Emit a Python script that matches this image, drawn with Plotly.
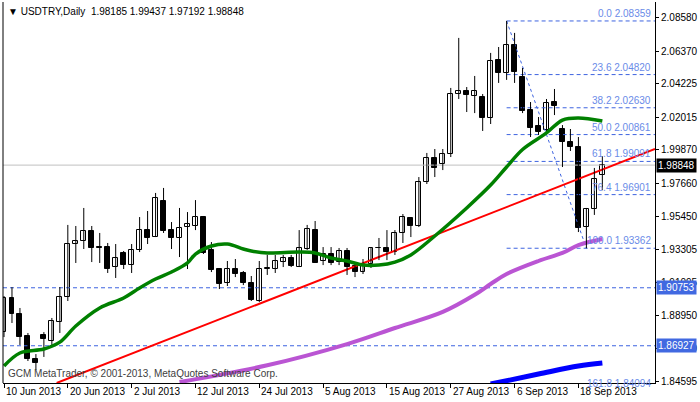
import plotly.graph_objects as go

# ---------------- data ----------------
opens = [1.8783,1.9008,1.8902,1.8757,1.8605,1.8763,1.8724,1.8849,1.9014,1.9364,
         1.9384,1.9450,1.9344,1.9344,1.9212,1.9305,1.9225,1.9325,1.9456,1.9410,
         1.9648,1.9456,1.9404,1.9476,1.9483,1.9542,1.9325,1.9199,1.9107,1.9199,
         1.9173,1.9107,1.8988,1.9199,1.9199,1.9245,1.9272,1.9212,1.9331,1.9456,
         1.9252,1.9298,1.9245,1.9318,1.9219,1.9179,1.9232,1.9338,1.9338,1.9311,
         1.9437,1.9536,1.9483,1.9773,1.9932,1.9892,1.9958,2.0354,2.0374,2.0341,
         2.0334,2.0196,2.0578,2.0493,2.0677,2.0466,2.0248,2.0143,2.0117,2.0301,
         2.0123,2.0037,2.0004,1.9476,1.9595,1.98185]
highs = [1.9021,1.9080,1.8942,1.8777,1.8638,1.8783,1.8876,1.9080,1.9490,1.9483,
         1.9602,1.9483,1.9437,1.9371,1.9364,1.9318,1.9364,1.9542,1.9582,1.9701,
         1.9734,1.9509,1.9602,1.9575,1.9654,1.9549,1.9377,1.9199,1.9252,1.9265,
         1.9186,1.9153,1.9252,1.9292,1.9292,1.9292,1.9292,1.9456,1.9490,1.9516,
         1.9344,1.9344,1.9338,1.9338,1.9232,1.9265,1.9338,1.9404,1.9456,1.9456,
         1.9562,1.9542,1.9806,1.9965,1.9991,1.9991,2.0394,2.0724,2.0400,2.0473,
         2.0354,2.0625,2.0664,2.08359,2.0757,2.0526,2.0301,2.0202,2.0321,2.0387,
         2.0149,2.0123,2.0070,1.9602,1.9866,1.99437]
lows = [1.8750,1.8843,1.8698,1.8592,1.8533,1.8619,1.8698,1.8777,1.8988,1.9239,
        1.9331,1.9245,1.9239,1.9173,1.9140,1.9199,1.9173,1.9311,1.9364,1.9410,
        1.9437,1.9331,1.9278,1.9199,1.9456,1.9298,1.9179,1.9067,1.9087,1.9146,
        1.9093,1.8988,1.8981,1.9160,1.9173,1.9212,1.9212,1.9212,1.9325,1.9239,
        1.9225,1.9225,1.9225,1.9160,1.9146,1.9166,1.9206,1.9258,1.9258,1.9292,
        1.9371,1.9410,1.9476,1.9760,1.9806,1.9852,1.9938,2.0321,2.0235,2.0228,
        2.0110,2.0156,2.0427,2.0447,2.0427,2.0228,2.0070,2.0084,2.0103,2.0215,
        1.9872,1.9978,1.9443,1.93362,1.9556,1.97192]
closes = [1.9008,1.8902,1.8750,1.8605,1.8579,1.8737,1.8856,1.9014,1.9364,1.9384,
          1.9450,1.9338,1.9340,1.9199,1.9272,1.9225,1.9325,1.9456,1.9404,1.9668,
          1.9450,1.9404,1.9470,1.9496,1.9542,1.9305,1.9192,1.9100,1.9199,1.9166,
          1.9107,1.8995,1.9199,1.9206,1.9252,1.9272,1.9219,1.9338,1.9463,1.9239,
          1.9298,1.9239,1.9318,1.9212,1.9179,1.9232,1.9338,1.9340,1.9311,1.9437,
          1.9542,1.9483,1.9773,1.9932,1.9866,1.9958,2.0354,2.0374,2.0347,2.0374,
          2.0196,2.0572,2.0493,2.0677,2.0499,2.0242,2.0130,2.0103,2.0295,2.0275,
          2.0037,2.0004,1.9470,1.9595,1.9793,1.98848]

green_idx = [0,2,5,7,9,12,15,17,19,21,23,24,26,28,30,31,33,37,39,41,43,45,47,49,51,54,58,61,63,65,68,70,72,75]
green_val = [1.8559,1.8645,1.8671,1.8717,1.8823,1.8942,1.9008,1.9074,1.9133,1.9179,1.9239,1.9298,
             1.9351,1.9364,1.9331,1.9318,1.9305,1.9311,1.9305,1.9272,1.9252,1.9225,1.9225,1.9245,
             1.9292,1.9417,1.9602,1.9753,1.9872,1.9988,2.0097,2.0182,2.0196,2.0176]
purple_idx = [22,33,43,49,55,59,61,63,67,70,72,75]
purple_val = [1.8453,1.8564,1.8704,1.8810,1.8916,1.9029,1.9100,1.9166,1.9252,1.9305,1.9357,1.9397]
blue_idx = [61,67,72,75]
blue_val = [1.8440,1.8506,1.8559,1.8579]
trend_idx = [6.6,81.6]
trend_val = [1.8447,1.9991]

fib_pct = ["0.0","23.6","38.2","50.0","61.8","76.4","100.0"]
fib_val = [2.08359,2.04820,2.02630,2.00861,1.99091,1.96901,1.93362]
fib_ext_label = "161.8 1.84094"
fib_start, fib_end = 63, 73

hlines = [1.90753, 1.86927]
last_price = 1.98848

y_ticks = [2.08580,2.06370,2.04225,2.02015,1.99870,1.97660,1.95450,1.93305,1.91095,1.88950,1.86740,1.84595]
x_tick_idx = [0,8,16,24,32,40,48,56,64,72]
x_tick_lbl = ["10 Jun 2013","20 Jun 2013","2 Jul 2013","12 Jul 2013","24 Jul 2013",
              "5 Aug 2013","15 Aug 2013","27 Aug 2013","6 Sep 2013","18 Sep 2013"]
header = "▼ USDTRY,Daily  1.98185 1.99437 1.97192 1.98848"
copyright_txt = "GCM MetaTrader, © 2001-2013, MetaQuotes Software Corp."

# ---------------- figure ----------------
FONT = "Liberation Sans"
FS = 10
FIB = "#3D63E0"
XMIN, XMAX = -0.125, 81.6
YMIN, YMAX = 1.8447, 2.0961
n = len(opens)
idx = list(range(n))

fig = go.Figure()

fig.add_trace(go.Scatter(x=[XMIN, XMAX], y=[last_price]*2, mode="lines",
                         line=dict(color="#C0C0C0", width=1), hoverinfo="skip"))
for h in hlines:
    fig.add_trace(go.Scatter(x=[XMIN, XMAX], y=[h]*2, mode="lines",
                             line=dict(color=FIB, width=1, dash="4px,3px"), hoverinfo="skip"))
for v in fib_val:
    fig.add_trace(go.Scatter(x=[fib_start, XMAX], y=[v]*2, mode="lines",
                             line=dict(color=FIB, width=1, dash="4px,3px"), hoverinfo="skip"))
fig.add_trace(go.Scatter(x=[fib_start, fib_end], y=[fib_val[0], fib_val[-1]], mode="lines",
                         line=dict(color=FIB, width=1, dash="dot"), hoverinfo="skip"))

fig.add_trace(go.Scatter(x=trend_idx, y=trend_val, mode="lines", line=dict(color="#FF0000", width=2)))
fig.add_trace(go.Scatter(x=purple_idx, y=purple_val, mode="lines",
                         line=dict(color="#BA55D3", width=4, shape="spline")))
fig.add_trace(go.Scatter(x=blue_idx, y=blue_val, mode="lines",
                         line=dict(color="#0000FF", width=5, shape="spline")))

wx, wy = [], []
for i in idx:
    wx += [i, i, None]
    wy += [lows[i], highs[i], None]
fig.add_trace(go.Scatter(x=wx, y=wy, mode="lines", line=dict(color="black", width=1), hoverinfo="skip"))

base = [min(o, c) for o, c in zip(opens, closes)]
hgt = [max(abs(c - o), 0.0002) for o, c in zip(opens, closes)]
cols = ["white" if c >= o else "black" for o, c in zip(opens, closes)]
fig.add_trace(go.Bar(x=idx, y=hgt, base=base, width=0.62,
                     marker=dict(color=cols, line=dict(color="black", width=1))))

fig.add_trace(go.Scatter(x=green_idx, y=green_val, mode="lines",
                         line=dict(color="#008000", width=3.5, shape="spline")))

ann = []
for p, v in zip(fib_pct, fib_val):
    ann.append(dict(x=XMAX - 0.2, y=v, xref="x", yref="y", text=f"{p} {v:.5f}",
                    xanchor="right", yanchor="bottom", showarrow=False, yshift=0,
                    font=dict(family=FONT, size=FS, color="#6A8BE8")))
ann.append(dict(x=XMAX - 0.2, y=YMIN, xref="x", yref="y", text=fib_ext_label,
                xanchor="right", yanchor="middle", showarrow=False,
                font=dict(family=FONT, size=FS, color="#6A8BE8")))
ann.append(dict(x=1, y=last_price, xref="paper", yref="y", text=f"{last_price:.5f}",
                xanchor="left", yanchor="middle", showarrow=False, bgcolor="black", xshift=1,
                font=dict(family=FONT, size=FS, color="white"), borderpad=1))
for h in hlines:
    ann.append(dict(x=1, y=h, xref="paper", yref="y", text=f"{h:.5f}",
                    xanchor="left", yanchor="middle", showarrow=False, bgcolor="#4169E1", xshift=1,
                    font=dict(family=FONT, size=FS, color="white"), borderpad=1))
for i, t in zip(x_tick_idx, x_tick_lbl):
    ann.append(dict(x=i, y=0, xref="x", yref="paper", text=t, xanchor="left", yanchor="top",
                    xshift=0, yshift=-1, showarrow=False, font=dict(family=FONT, size=FS, color="black")))
ann.append(dict(x=0.005, y=1, xref="paper", yref="paper", text=header, xanchor="left", yanchor="top",
                yshift=-2, showarrow=False, font=dict(family=FONT, size=FS, color="black")))
ann.append(dict(x=0.005, y=0, xref="paper", yref="paper", text=copyright_txt, xanchor="left",
                yanchor="bottom", yshift=2, showarrow=False, font=dict(family=FONT, size=FS, color="#404040")))

fig.update_layout(
    width=700, height=402, margin=dict(l=3, r=43, t=2, b=19),
    paper_bgcolor="white", plot_bgcolor="white", showlegend=False,
    annotations=ann, bargap=0,
    xaxis=dict(range=[XMIN, XMAX], showgrid=False, zeroline=False, showline=True, linecolor="black",
               tickvals=x_tick_idx, ticktext=[""]*len(x_tick_idx),
               ticks="outside", ticklen=4, tickcolor="black"),
    yaxis=dict(range=[YMIN, YMAX], side="right", showgrid=False, zeroline=False, showline=True,
               linecolor="black", tickvals=y_ticks, ticktext=[f"{v:.5f}" for v in y_ticks],
               ticks="outside", ticklen=3, tickcolor="black",
               tickfont=dict(family=FONT, size=FS, color="black")),
    shapes=[dict(type="line", xref="paper", yref="paper", x0=0, x1=0, y0=0, y1=1,
                 line=dict(color="black", width=1))],
)
fig.write_html("out.html", config={"displayModeBar": False},
               post_script="document.body.style.margin='0';document.body.style.overflow='hidden';")
